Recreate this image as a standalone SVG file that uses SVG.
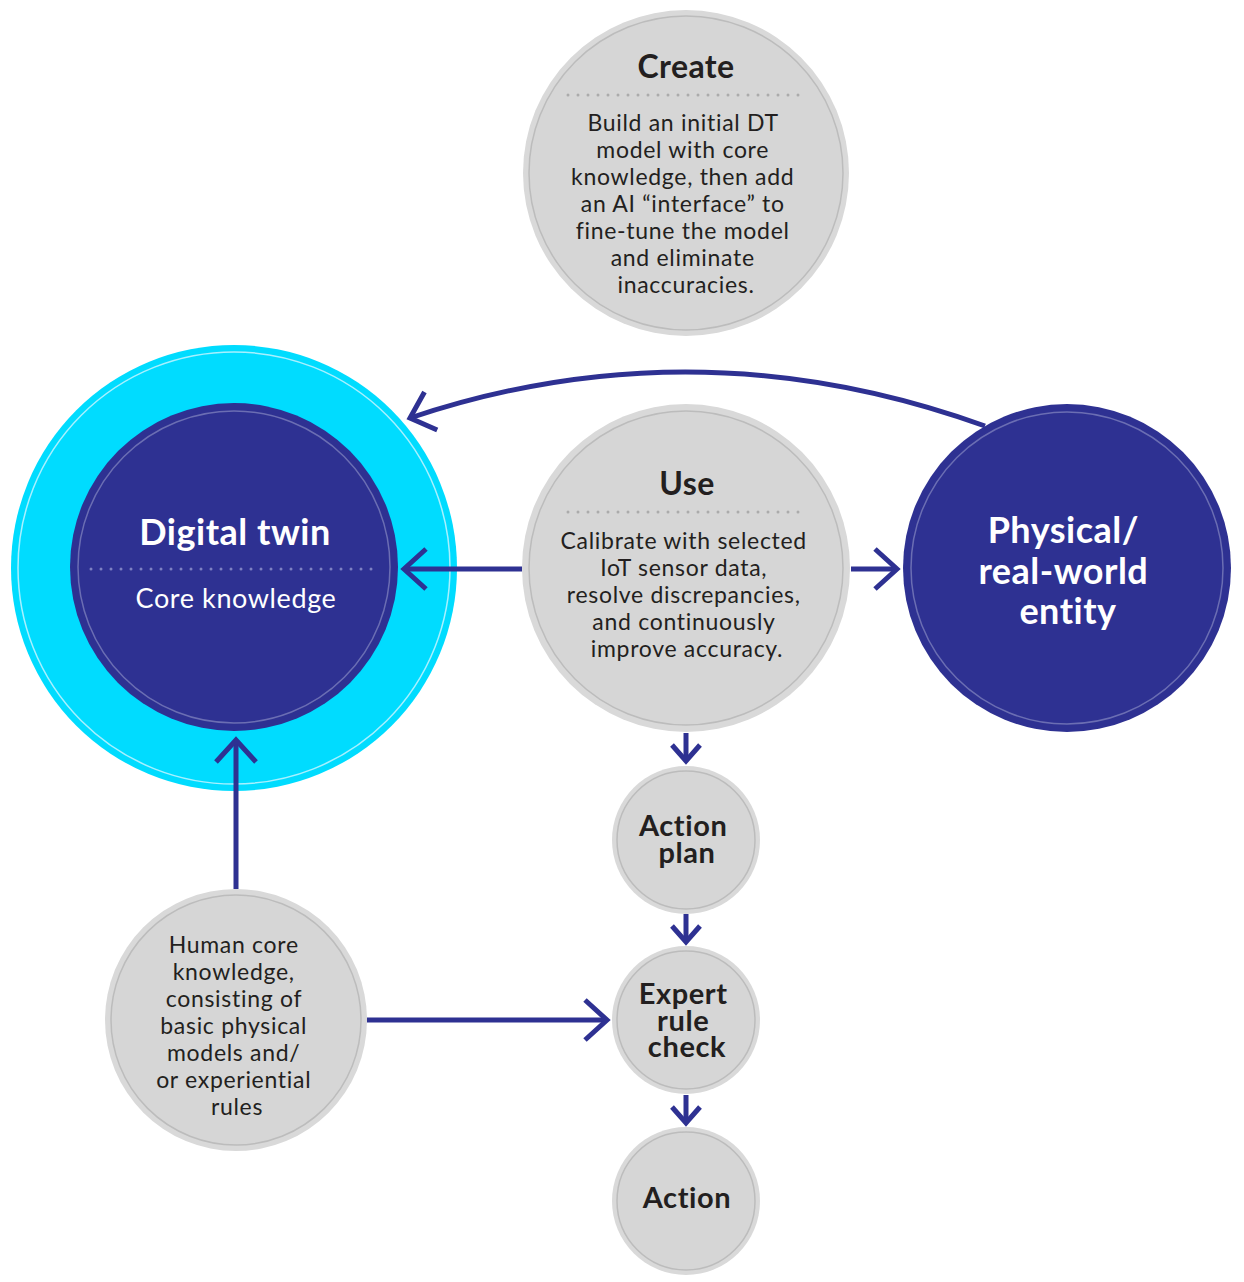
<svg xmlns="http://www.w3.org/2000/svg" width="1244" height="1282" viewBox="0 0 1244 1282">
<style>
.gray{fill:#d9d9d9}
.grayIn{fill:#d6d6d6;stroke:#bcbcbc;stroke-width:1.5}
.dark{fill:#2e3192}
.darkIn{fill:none;stroke:#6b6eb3;stroke-width:1.5}
.t{font-family:Lato,"Open Sans","Liberation Sans",sans-serif;fill:#231f20;text-anchor:middle}
.body{font-size:23px;letter-spacing:0.7px}
.b{font-weight:700}
.w{fill:#ffffff}
.dots{stroke:#ababab;stroke-width:3;stroke-linecap:round;stroke-dasharray:0 10;fill:none}
.dotsL{stroke:#7e81c2;stroke-width:3;stroke-linecap:round;stroke-dasharray:0 10;fill:none}
.c{stroke:#2e3192;stroke-width:5;fill:none}
.small{font-size:29px;letter-spacing:0.6px}
</style>
<defs>
<marker id="big" markerUnits="userSpaceOnUse" viewBox="-30 -25 35 50" refX="0" refY="0" markerWidth="35" markerHeight="50" orient="auto">
<path d="M -22 -20 L 0 0 L -22 20" fill="none" stroke="#2e3192" stroke-width="5"/>
</marker>
<marker id="small" markerUnits="userSpaceOnUse" viewBox="-25 -20 30 40" refX="0" refY="0" markerWidth="30" markerHeight="40" orient="auto">
<path d="M -16 -14 L 0 0 L -16 14" fill="none" stroke="#2e3192" stroke-width="5"/>
</marker>
</defs>
<rect width="1244" height="1282" fill="#ffffff"/>

<g id="create">
<circle class="gray" cx="686" cy="173" r="163"/>
<circle class="grayIn" cx="686" cy="173" r="157"/>
<text class="t b" x="686" y="78" font-size="32" letter-spacing="0.4">Create</text>
<line class="dots" x1="568" y1="95" x2="808" y2="95"/>
<text class="t body">
<tspan x="686" y="131">Build an initial DT</tspan>
<tspan x="686" y="158">model with core</tspan>
<tspan x="686" y="185">knowledge, then add</tspan>
<tspan x="686" y="212">an AI “interface” to</tspan>
<tspan x="686" y="239">fine-tune the model</tspan>
<tspan x="686" y="266">and eliminate</tspan>
<tspan x="686" y="293">inaccuracies.</tspan>
</text>
</g>

<g id="digital-twin">
<circle cx="234" cy="568" r="223" fill="#00dcff"/>
<circle cx="234" cy="568" r="216" fill="none" stroke="#a8f0ff" stroke-width="1.5"/>
<circle class="dark" cx="234" cy="567" r="164"/>
<circle class="darkIn" cx="234" cy="567" r="156"/>
<text class="t b w" x="235" y="545" font-size="36" letter-spacing="0.5">Digital twin</text>
<line class="dotsL" x1="91" y1="569" x2="380" y2="569"/>
<text class="t w" x="236" y="608" font-size="27" letter-spacing="0.6">Core knowledge</text>
</g>

<g id="use">
<circle class="gray" cx="686" cy="568" r="164"/>
<circle class="grayIn" cx="686" cy="568" r="157"/>
<text class="t b" x="687" y="495" font-size="32" letter-spacing="0.4">Use</text>
<line class="dots" x1="568" y1="512" x2="808" y2="512"/>
<text class="t body">
<tspan x="687" y="549">Calibrate with selected</tspan>
<tspan x="687" y="576">IoT sensor data,</tspan>
<tspan x="687" y="603">resolve discrepancies,</tspan>
<tspan x="687" y="630">and continuously</tspan>
<tspan x="687" y="657">improve accuracy.</tspan>
</text>
</g>

<g id="physical">
<circle class="dark" cx="1067" cy="568" r="164"/>
<circle class="darkIn" cx="1067" cy="568" r="156"/>
<text class="t b w" font-size="36" letter-spacing="0.5">
<tspan x="1068" y="543">Physical/</tspan>
<tspan x="1068" y="584">real-world</tspan>
<tspan x="1068" y="624">entity</tspan>
</text>
</g>

<g id="action-plan">
<circle class="gray" cx="686" cy="840" r="74"/>
<circle class="grayIn" cx="686" cy="840" r="69"/>
<text class="t b small">
<tspan x="687" y="836">Action</tspan>
<tspan x="687" y="863">plan</tspan>
</text>
</g>

<g id="expert">
<circle class="gray" cx="686" cy="1020" r="74"/>
<circle class="grayIn" cx="686" cy="1020" r="69"/>
<text class="t b small">
<tspan x="687" y="1004">Expert</tspan>
<tspan x="687" y="1031">rule</tspan>
<tspan x="687" y="1057">check</tspan>
</text>
</g>

<g id="action">
<circle class="gray" cx="686" cy="1201" r="74"/>
<circle class="grayIn" cx="686" cy="1201" r="69"/>
<text class="t b small" x="687" y="1208">Action</text>
</g>

<g id="human">
<circle class="gray" cx="236" cy="1020" r="131"/>
<circle class="grayIn" cx="236" cy="1020" r="125"/>
<text class="t body">
<tspan x="237" y="953">Human core</tspan>
<tspan x="237" y="980">knowledge,</tspan>
<tspan x="237" y="1007">consisting of</tspan>
<tspan x="237" y="1034">basic physical</tspan>
<tspan x="237" y="1061">models and/</tspan>
<tspan x="237" y="1088">or experiential</tspan>
<tspan x="237" y="1115">rules</tspan>
</text>
</g>

<g id="connectors">
<path class="c" d="M 522 569 L 404 569" marker-end="url(#big)"/>
<path class="c" d="M 851 569 L 897 569" marker-end="url(#big)"/>
<path class="c" d="M 985 426 Q 696 322 410 418" marker-end="url(#big)"/>
<path class="c" d="M 236 889 L 236 740" marker-end="url(#big)"/>
<path class="c" d="M 367 1020 L 607 1020" marker-end="url(#big)"/>
<path class="c" d="M 686 733 L 686 761" marker-end="url(#small)"/>
<path class="c" d="M 686 914 L 686 942" marker-end="url(#small)"/>
<path class="c" d="M 686 1095 L 686 1123" marker-end="url(#small)"/>
</g>
</svg>
